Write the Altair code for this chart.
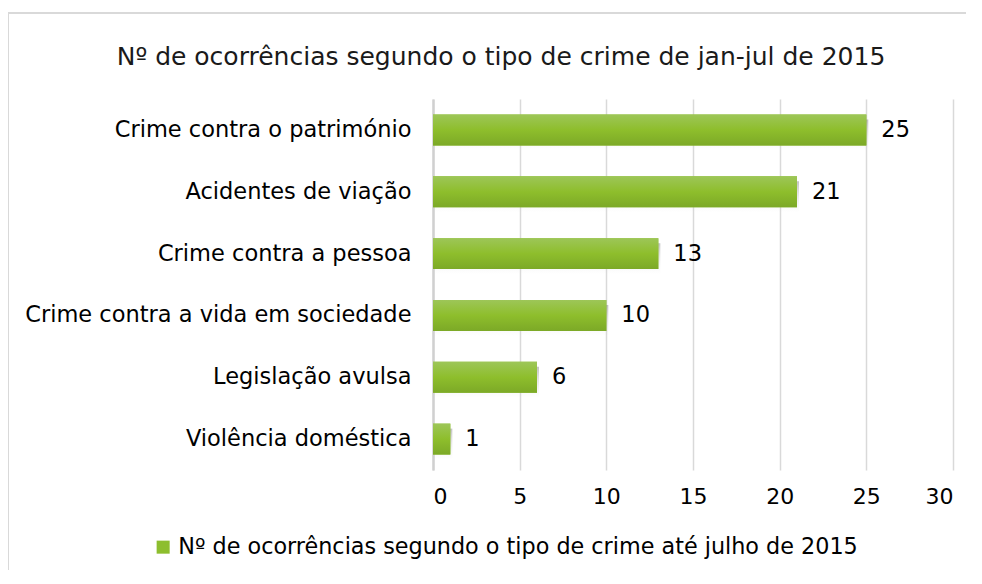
import altair as alt
import pandas as pd

categories = [
    "Crime contra o património",
    "Acidentes de viação",
    "Crime contra a pessoa",
    "Crime contra a vida em sociedade",
    "Legislação avulsa",
    "Violência doméstica",
]
values = [25, 21, 13, 10, 6, 1]
series_name = "Nº de ocorrências segundo o tipo de crime até julho de 2015"
title_text = "Nº de ocorrências segundo o tipo de crime de jan-jul de 2015"
x_ticks = [0, 5, 10, 15, 20, 25, 30]

df = pd.DataFrame({"cat": categories, "val": values, "series": series_name})

FONT = "DejaVu Sans"
FS = 22.5

x_enc = alt.X("val:Q", scale=alt.Scale(domain=[0, 30], nice=False),
              axis=alt.Axis(values=x_ticks, title=None, grid=True, gridColor="#d9d9d9",
                            gridWidth=1.5, domain=False, ticks=False, labelFontSize=22,
                            labelFont=FONT, labelColor="#000000", labelPadding=16))
y_enc = alt.Y("cat:N", sort=categories,
              scale=alt.Scale(paddingInner=0.5, paddingOuter=0.25),
              axis=alt.Axis(title=None, domain=True, domainColor="#d0d0d0", domainWidth=2.5,
                            ticks=False, labelFontSize=FS, labelFont=FONT, labelColor="#000000",
                            labelPadding=22, labelLimit=0, grid=False))

base = alt.Chart(df)

shadow = base.mark_bar(
    xOffset=2, yOffset=5,
    fill=alt.Gradient(gradient="linear", x1=0, y1=0, x2=0, y2=1,
                      stops=[alt.GradientStop(color="rgba(120,120,120,0.45)", offset=0),
                             alt.GradientStop(color="rgba(200,200,200,0.0)", offset=1)]),
).encode(x=x_enc, y=y_enc)

bars_legend = base.mark_bar().encode(
    x=x_enc, y=y_enc,
    color=alt.Color("series:N", scale=alt.Scale(range=["#8DBE2E"]),
                    legend=alt.Legend(title=None, orient="none", legendX=-281, legendY=437,
                                      symbolType="square", symbolSize=170, symbolStrokeWidth=0,
                                      labelFontSize=22.3, labelFont=FONT, labelColor="#000000",
                                      labelLimit=0, labelOffset=4)),
)

bars = base.mark_bar(
    fill=alt.Gradient(gradient="linear", x1=0, y1=0, x2=0, y2=1,
                      stops=[alt.GradientStop(color="#9DC658", offset=0),
                             alt.GradientStop(color="#8EBE2C", offset=0.5),
                             alt.GradientStop(color="#7CA927", offset=1)]),
).encode(x=x_enc, y=y_enc)

labels = base.mark_text(align="left", baseline="middle", dx=15, fontSize=FS,
                        font=FONT, color="#000000").encode(
    x=x_enc, y=y_enc, text="val:Q")

title = alt.Chart(pd.DataFrame({"t": [title_text]})).mark_text(
    align="center", baseline="middle", fontSize=25, font=FONT, color="#1a1a1a"
).encode(x=alt.value(68), y=alt.value(-42), text="t:N")

border_top = alt.Chart(pd.DataFrame({"a": [0]})).mark_rule(color="#d9d9d9", strokeWidth=2).encode(
    x=alt.value(-425), x2=alt.value(560), y=alt.value(-86))
border_left = alt.Chart(pd.DataFrame({"a": [0]})).mark_rule(color="#d9d9d9", strokeWidth=2).encode(
    x=alt.value(-425), y=alt.value(-86), y2=alt.value(600))

chart = alt.layer(border_top, border_left, shadow, bars_legend, bars, labels, title).properties(
    width=520, height=371,
    autosize=alt.AutoSizeParams(type="none"),
    padding={"left": 425, "top": 91, "right": 13, "bottom": 100},
    background="#ffffff",
).configure_view(stroke=None)

chart.save("out.html", embed_options={"renderer": "svg", "actions": False})
